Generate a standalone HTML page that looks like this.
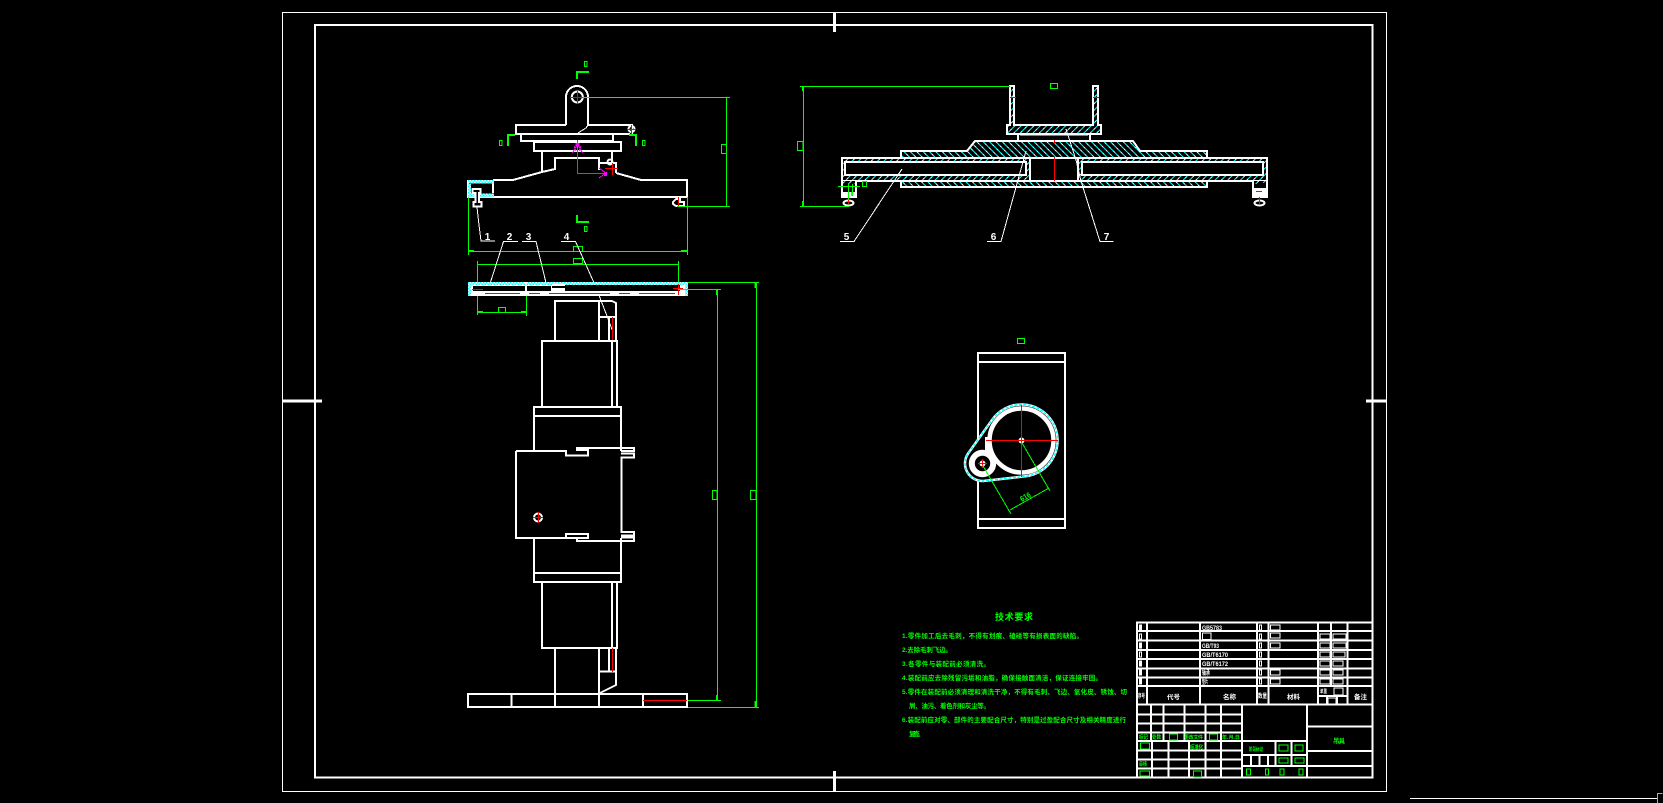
<!DOCTYPE html>
<html><head><meta charset="utf-8"><style>
html,body{margin:0;padding:0;background:#000;width:1663px;height:803px;overflow:hidden}
svg{display:block;position:absolute;left:0;top:0}
.w{fill:none;stroke:#fff;stroke-width:2}
.t{fill:none;stroke:#fff;stroke-width:1}
.g{fill:none;stroke:#0f0;stroke-width:1}
.g2{fill:none;stroke:#0f0;stroke-width:2}
.r{fill:none;stroke:#f00;stroke-width:1}
.m{fill:none;stroke:#f0f;stroke-width:1}
text{font-family:"Liberation Sans","Noto Sans CJK SC",sans-serif}
.lb{fill:#fff;font-size:10px;font-weight:700;text-anchor:middle}
.gt{fill:#0f0;font-size:6.5px;font-weight:700}
.wt{fill:#fff;font-size:6.5px;font-weight:700}
</style></head><body>
<svg width="1663" height="803" viewBox="0 0 1663 803" shape-rendering="crispEdges">
<defs>
<pattern id="h1" width="4.500" height="6" patternUnits="userSpaceOnUse" patternTransform="rotate(45)"><rect width="4.500" height="6" fill="#000"/><line x1="1" y1="0" x2="1" y2="6" stroke="#0ff" stroke-width="1.200"/><line x1="1" y1="0" x2="1" y2="2" stroke="#fff" stroke-width="1.200"/></pattern>
<pattern id="h2" width="4.500" height="6" patternUnits="userSpaceOnUse" patternTransform="rotate(-45)"><rect width="4.500" height="6" fill="#000"/><line x1="1" y1="0" x2="1" y2="6" stroke="#0ff" stroke-width="1.200"/><line x1="1" y1="0" x2="1" y2="2" stroke="#fff" stroke-width="1.200"/></pattern>
<pattern id="dots" width="3" height="3" patternUnits="userSpaceOnUse"><rect width="3" height="3" fill="#fff"/><rect width="1.500" height="1.500" fill="#0ff"/><rect x="1.500" y="1.500" width="1.500" height="1.500" fill="#0ff"/></pattern>
</defs>

<!-- frames -->
<rect x="282.500" y="12.500" width="1104" height="779" fill="none" stroke="#fff" stroke-width="1"/>
<rect x="315" y="25" width="1057.500" height="752.500" class="w"/>
<path d="M834.700 12V32M834.700 771V791" stroke="#fff" stroke-width="3" fill="none"/>
<path d="M282 401H322M1366 401H1386" stroke="#fff" stroke-width="3" fill="none"/>
<path d="M1410 798.500H1657" stroke="#fff" stroke-width="1" fill="none"/>
<path d="M1662.500 793.500H1657.500V803" stroke="#1f8" stroke-width="1" fill="none"/>

<!-- TOP-LEFT front view -->
<path class="w" d="M566 125V97A11 11 0 0 1 588 97V125"/>
<path class="t" d="M588 125L586 128 578 133"/>
<circle cx="577.300" cy="97" r="5.500" class="w" shape-rendering="auto"/>
<path class="r" d="M570 97.500H585M577.500 91V104"/>
<path class="w" d="M566 125H516V134H630M588 125H632V134"/>
<circle cx="631.500" cy="129" r="3" class="w" shape-rendering="auto"/>
<path class="r" d="M627 129.500H636M631.500 125V134" stroke-width="2"/>
<path class="w" d="M521 134V141H613V134"/>
<path class="w" d="M534 142H621V151H534Z"/>
<path class="w" d="M542 151V172M612 151V163"/>
<path class="w" d="M493 180H513L542 172 555 169V158H599V170M599 163H616V173M616 173L641 180H687V197H468V181H493V193M468 181V197"/>
<circle cx="610" cy="162" r="2.500" class="w" shape-rendering="auto"/>
<path d="M468 180H494V183.500H468ZM468 183V197H471V183ZM471 193.500H494V197H471Z" fill="url(#dots)"/>
<path d="M472.500 189H480.500V193H479V202H481.500V206.500H473.500V202H475.500V193H472.500Z" fill="#000" stroke="#fff" stroke-width="2"/>
<path class="t" d="M477 207L479 225 481 241H495"/>
<path d="M673 202L676 199H680V202H684V206H676L673 204Z" fill="#000" stroke="#fff" stroke-width="2"/>
<path class="r" d="M678.500 197V207M605 168.500H618M612.500 163V175"/>
<path class="m" d="M577.500 140V173.500H606M577.500 144L572.500 153M577.500 144L582.500 153M606 173L599 168M606 173L599 178M574 146L576 151M581 146L579 151"/>
<rect x="575.500" y="143" width="4" height="3" fill="#f0f"/><rect x="604" y="172" width="3" height="4" fill="#f0f"/>

<!-- green dims front view -->
<path class="g" d="M583 97.500H730M726.500 97.500V206.500M677 206.500H730"/>
<rect x="721.500" y="144.500" width="5" height="9" class="g"/>
<path class="g2" d="M577 79V72H589M577 215V222H589M508 146V135H515M636 146V135H629"/>
<rect x="584.500" y="61.500" width="2.500" height="5" class="g"/>
<rect x="584.500" y="226.500" width="2.500" height="5" class="g"/>
<rect x="499.500" y="140.500" width="2.500" height="5" class="g"/>
<rect x="642.500" y="140.500" width="2.500" height="5" class="g"/>
<path class="g" d="M468.500 197V255M687.500 197V255M468 251.500H688"/>
<path d="M468 251H474M681 251H688M477 312H483M521 312H527" stroke="#0f0" stroke-width="2"/>
<rect x="573.500" y="246.500" width="9" height="5" class="g"/>
<rect x="573.500" y="258.500" width="9" height="5" class="g"/>
<path class="g" d="M477.500 261V315M678.500 261V295M477 264.500H679M477 312.500H527M526.500 290V316"/>
<rect x="498.500" y="307.500" width="7" height="5" class="g"/>

<!-- leaders 1-4 -->
<path class="t" d="M518 241.500H503.500L488 290M522 241.500H536L547 287M561 241.500H575.500L595 285 607 316 613 332"/>
<text x="487.500" y="240" class="lb">1</text><text x="509.500" y="240" class="lb">2</text><text x="528.500" y="240" class="lb">3</text><text x="566.500" y="240" class="lb">4</text>

<!-- plate -->
<rect x="468" y="282" width="220" height="14" fill="#fff"/>
<rect x="473" y="286" width="52" height="5" fill="#000"/><rect x="527" y="286" width="24" height="5" fill="#000"/><rect x="552" y="284" width="128" height="7" fill="#000"/>
<rect x="468" y="282" width="220" height="3" fill="url(#dots)"/>
<rect x="468" y="282" width="3" height="14" fill="url(#dots)"/><rect x="685" y="282" width="3" height="14" fill="url(#dots)"/>
<rect x="525" y="282" width="2" height="9" fill="#fff"/><rect x="552" y="284" width="13" height="2" fill="#fff"/><rect x="552" y="288" width="13" height="3" fill="#fff"/>
<path d="M472 289.500H483M485 293.500H520M529 293.500H540M549 293.500H610M619 293.500H630M639 293.500H675M673 288.500H683" stroke="#f00" stroke-width="1" fill="none"/>
<path class="r" d="M678.500 284V295"/>
<path class="g" d="M678 289.500H721M717.500 289V700.500M688 282.500H759M756.500 282V707.500"/>
<path d="M717 289V295M755.500 282V288M717 695V700M755.500 701V707" stroke="#0f0" stroke-width="2"/>
<rect x="712.500" y="490.500" width="4.500" height="9" class="g"/><rect x="750.500" y="490.500" width="5.500" height="9" class="g"/>
<path class="g" d="M686 700.500H721M687 707.500H759"/>

<!-- side view stack -->
<path class="w" d="M555 341V301H612L616 303V341M599 301V341M599 317H616M609 317V341"/>
<path class="r" d="M612.500 317V343" stroke-width="1.500"/>
<path class="w" d="M542 406V341H617V406M612 341V406"/>
<path class="w" d="M534 451V407H621V451M534 416H621"/>
<path class="w" d="M516 451V538H566M516 451H566V455.500H588V450H577V448H634V451H621M621 453.500H634V457.500H621.500V532H634V535.700H621M621 537.700H634V541H577V538H588V534H566V538H588"/>
<circle cx="538" cy="517.500" r="4" class="w" shape-rendering="auto"/>
<path class="r" d="M533 517.500H543M538.500 512V523"/>
<path class="w" d="M534 538V582H621V538M534 573H621"/>
<path class="w" d="M542 583V648H617V583M612 583V648"/>
<path class="w" d="M555 648V707M599 648V707M599 671.500H616M616 648V685L600 693M609 648V671"/>
<path class="r" d="M612.500 648V672" stroke-width="1.500"/>
<path class="w" d="M468 694H687V707H468ZM511.500 694V707M643 694V707"/>
<path class="r" d="M643 700.500H687"/>

<!-- TOP-RIGHT section -->
<path d="M1010 86V125H1007V134H1101V125H1098V86H1093V125H1014V86Z" fill="url(#h1)" stroke="#fff" stroke-width="2"/>
<path class="w" d="M1018 134V141M1090 134V141M1020 134.500H1088"/>
<path d="M901 151H967L975 141H1133L1140 151H1207V158H901Z" fill="url(#h2)" stroke="#fff" stroke-width="2"/>
<path d="M842 158H1267V181H842Z" fill="url(#h1)" stroke="#fff" stroke-width="2"/>
<path d="M1030 158H1078V181H1030Z" fill="#000" stroke="#fff" stroke-width="2"/>
<rect x="845" y="162" width="181" height="13" fill="#000" stroke="#fff" stroke-width="2"/>
<rect x="1082" y="162" width="181" height="13" fill="#000" stroke="#fff" stroke-width="2"/>
<path d="M901 181H1207V187H901Z" fill="url(#h2)" stroke="#fff" stroke-width="2"/>
<path d="M842 181H856V197H842Z" fill="#000" stroke="#fff" stroke-width="2"/>
<path d="M1253 181H1267V197H1253Z" fill="#000" stroke="#fff" stroke-width="2"/>
<rect x="843" y="181" width="12" height="3" fill="url(#h1)"/><rect x="1254" y="181" width="12" height="3" fill="url(#h1)"/>
<rect x="843" y="192" width="12" height="4" fill="#fff"/><rect x="1254" y="188" width="12" height="8" fill="#fff"/><rect x="1257" y="183" width="7" height="5" fill="#000"/>
<ellipse cx="848.500" cy="203" rx="5" ry="2.500" class="w" shape-rendering="auto"/>
<ellipse cx="1259.500" cy="203" rx="5" ry="2.500" class="w" shape-rendering="auto"/>
<path d="M1054.500 140V144M1054.500 157V181" stroke="#f00" fill="none" stroke-width="1"/>
<path class="r" d="M1010 97.500H1016M1093 97.500H1099M848.500 197V204M852 190V196M1259.500 197V204M1256 191.500H1262"/>
<path class="g" d="M800 86.500H1010M803.500 86V206.500M800 206.500H849"/>
<path d="M803 86V91M803 201V206" stroke="#0f0" stroke-width="2"/>
<rect x="797.500" y="141.500" width="5.500" height="9" class="g"/>
<rect x="1050.500" y="83.500" width="7" height="5" class="g"/>
<path class="g" d="M838 186.500H860M848.500 184V200M852.500 184V196"/>
<rect x="862.500" y="181.500" width="4" height="5" class="g"/>
<path class="t" d="M840 241.500H854L902 169M987 241.500H1001L1026 151M1113.700 241.500H1100L1081 181 1076 160 1066 129"/>
<text x="846.500" y="240" class="lb">5</text><text x="993.500" y="240" class="lb">6</text><text x="1106.500" y="240" class="lb">7</text>

<!-- rect view with circles -->
<rect x="978" y="353" width="87" height="175" class="w"/>
<path class="w" d="M978 362H1065M978 519H1065"/>
<rect x="1017.500" y="338.500" width="7" height="5" class="g"/>
<g shape-rendering="auto">
<path d="M992.200 419.700A36 36 0 1 1 1025.500 476.300L984.400 480.900A17.500 17.500 0 0 1 968.200 453.400Z" fill="#000" stroke="#fff" stroke-width="2.500"/>
<path d="M992.200 419.700A36 36 0 1 1 1025.500 476.300L984.400 480.900A17.500 17.500 0 0 1 968.200 453.400Z" fill="none" stroke="#0ff" stroke-width="1.500" stroke-dasharray="3 1.500"/>
<circle cx="1021.500" cy="440.500" r="32" fill="none" stroke="#fff" stroke-width="4.500"/>
<circle cx="982.500" cy="463.500" r="10.700" fill="none" stroke="#fff" stroke-width="6"/>
<path d="M985 437L990 437 990 452 985 450Z" fill="#fff"/>
<circle cx="982.500" cy="463.500" r="3" fill="#fff"/>
<circle cx="1021.500" cy="440.500" r="3" fill="#fff"/>
</g>
<path class="r" d="M986 440.500H1058M1021.500 405V477M978 463.500H987M982.500 459V468"/>
<path d="M1021.500 442L1050 491M982.500 465L1011 514M1010 510L1049 488" stroke="#0f0" fill="none" stroke-width="1"/>
<text x="0" y="0" transform="translate(1022 502) rotate(-30)" class="gt" textLength="11" lengthAdjust="spacingAndGlyphs" style="font-size:8px">616</text>

<!-- notes -->
<g class="gt" shape-rendering="auto">
<text x="995" y="620" textLength="38" lengthAdjust="spacing" style="font-size:9px">技术要求</text>
<text x="902" y="638" textLength="181" lengthAdjust="spacing">1.零件加工后去毛刺，不得有划痕、磕碰等有损表面的缺陷。</text>
<text x="902" y="652" textLength="50" lengthAdjust="spacing">2.去除毛刺飞边。</text>
<text x="902" y="666" textLength="88" lengthAdjust="spacing">3.各零件与装配前必须清洗。</text>
<text x="902" y="680" textLength="200" lengthAdjust="spacing">4.装配前应去除残留污垢和油脂，确保接触面清洁，保证连接牢固。</text>
<text x="902" y="694" textLength="225" lengthAdjust="spacing">5.零件在装配前必须清理和清洗干净，不得有毛刺、飞边、氧化皮、锈蚀、切</text>
<text x="909" y="708" textLength="81" lengthAdjust="spacing">屑、油污、着色剂和灰尘等。</text>
<text x="902" y="722" textLength="224" lengthAdjust="spacing">6.装配前应对零、部件的主要配合尺寸，特别是过盈配合尺寸及相关精度进行</text>
<text x="909" y="736" textLength="15" lengthAdjust="spacing">复查。</text>
</g>

<!-- title block -->
<g>
<rect x="1137" y="622.500" width="235.500" height="155" class="w"/>
<path class="w" d="M1137 631H1372M1137 640.500H1372M1137 650H1372M1137 659H1372M1137 668.500H1372M1137 677.500H1372M1137 686H1372M1137 704.500H1372"/>
<path class="w" d="M1147 622V704M1200 622V704M1257 622V704M1268.500 622V704M1318 622V704M1331 622V686M1347.500 622V704"/>
<path class="w" d="M1318 696H1347M1327 696V704M1337 696V704"/>
<path class="w" d="M1242 704V777M1307 704V777"/>
<path class="w" d="M1137 714.500H1242M1137 723.500H1242M1137 732.500H1242M1137 741H1307M1137 750.500H1242M1137 759.500H1242M1137 768.500H1242"/>
<path class="w" d="M1151 704V741M1163.500 704V741M1184.500 704V741M1205.500 704V777M1221 704V777"/>
<path class="w" d="M1152 741V777M1168.500 741V777M1189 741V777"/>
<path class="w" d="M1242 755H1307M1242 766H1307M1275.500 741V766M1291.500 741V766M1251 755V766M1259.500 755V766M1268 755V766"/>
<path class="w" d="M1307 726.500H1372M1307 751H1372M1307 766H1372"/>
<g class="t">
<rect x="1139.500" y="625" width="2" height="5" fill="#fff"/><rect x="1139.500" y="634" width="2" height="5"/>
<rect x="1139.500" y="643" width="2" height="5" fill="#fff"/><rect x="1139.500" y="652" width="2" height="5"/>
<rect x="1139.500" y="661" width="2" height="5" fill="#fff"/><rect x="1139.500" y="670" width="2" height="5" fill="#fff"/><rect x="1139.500" y="679" width="2" height="5" fill="#fff"/>
<rect x="1259.500" y="625" width="2" height="5"/><rect x="1259.500" y="634" width="2" height="5"/><rect x="1259.500" y="643" width="2" height="5"/><rect x="1259.500" y="652" width="2" height="5"/><rect x="1259.500" y="661" width="2" height="5"/><rect x="1259.500" y="670" width="2" height="5"/><rect x="1259.500" y="679" width="2" height="5"/>
<rect x="1270.500" y="625" width="9.500" height="5"/><rect x="1270.500" y="633" width="9.500" height="5"/><rect x="1270.500" y="643" width="9.500" height="5"/><rect x="1270.500" y="670" width="9.500" height="5"/><rect x="1270.500" y="679" width="9.500" height="5"/>
<rect x="1320" y="634" width="10" height="5"/><rect x="1320" y="643" width="10" height="5"/><rect x="1320" y="652" width="10" height="5"/><rect x="1320" y="661" width="10" height="5"/><rect x="1320" y="670" width="10" height="5"/><rect x="1320" y="679" width="10" height="5"/>
<rect x="1333" y="634" width="13" height="5"/><rect x="1333" y="643" width="13" height="5"/><rect x="1333" y="652" width="12" height="5"/><rect x="1333" y="661" width="10" height="5"/><rect x="1333" y="670" width="10" height="5"/><rect x="1333" y="679" width="10" height="5"/>
<rect x="1202.500" y="633" width="8.500" height="6.500"/>
<rect x="1334" y="688" width="9" height="7"/><rect x="1328" y="698" width="8" height="6"/>
</g>
<g class="wt" shape-rendering="auto">
<text x="1202" y="630" textLength="20" lengthAdjust="spacingAndGlyphs" style="font-size:6px">GB5783</text>
<text x="1202" y="648" textLength="17" lengthAdjust="spacingAndGlyphs" style="font-size:6px">GB/T93</text>
<text x="1202" y="657" textLength="26" lengthAdjust="spacingAndGlyphs" style="font-size:6px">GB/T6170</text>
<text x="1202" y="666" textLength="26" lengthAdjust="spacingAndGlyphs" style="font-size:6px">GB/T6172</text>
<text x="1202" y="675" textLength="8" lengthAdjust="spacingAndGlyphs" style="font-size:6px">轴承</text>
<text x="1202" y="684" textLength="6" lengthAdjust="spacingAndGlyphs" style="font-size:6px">垫片</text>
<text x="1138" y="698" textLength="7" lengthAdjust="spacingAndGlyphs" style="font-size:6px">序号</text>
<text x="1167" y="699" textLength="13" lengthAdjust="spacing" style="font-size:6.500px">代号</text>
<text x="1223" y="699" textLength="13" lengthAdjust="spacing" style="font-size:6.500px">名称</text>
<text x="1258" y="698" textLength="9" lengthAdjust="spacingAndGlyphs" style="font-size:6px">数量</text>
<text x="1287" y="699" textLength="13" lengthAdjust="spacing" style="font-size:6.500px">材料</text>
<text x="1320" y="693" textLength="7" lengthAdjust="spacingAndGlyphs" style="font-size:5px">单重</text>
<text x="1354" y="699" textLength="13" lengthAdjust="spacing" style="font-size:6.500px">备注</text>
</g>
<g class="gt" shape-rendering="auto">
<text x="1139" y="739" textLength="9" lengthAdjust="spacingAndGlyphs" style="font-size:5.500px">标记</text>
<text x="1152" y="739" textLength="9" lengthAdjust="spacingAndGlyphs" style="font-size:5.500px">处数</text>
<text x="1184" y="739" textLength="19" lengthAdjust="spacing" style="font-size:5px">更改文件</text>
<text x="1222" y="739" textLength="18" lengthAdjust="spacingAndGlyphs" style="font-size:5px">年.月.日</text>
<text x="1190" y="749" textLength="13" lengthAdjust="spacingAndGlyphs" style="font-size:5.500px">标准化</text>
<text x="1139" y="766" textLength="8" lengthAdjust="spacingAndGlyphs" style="font-size:5.500px">审核</text>
<text x="1249" y="751" textLength="14" lengthAdjust="spacingAndGlyphs" style="font-size:5px">阶段标记</text>
<text x="1333" y="743" textLength="12" lengthAdjust="spacing" style="font-size:6.500px">吊具</text>
</g>
<g class="g">
<rect x="1169.500" y="734" width="8" height="6"/><rect x="1209.500" y="734" width="8" height="6"/>
<rect x="1140.500" y="743" width="9" height="6"/><rect x="1140" y="771" width="9.500" height="5"/>
<rect x="1193.500" y="771" width="8" height="6"/>
<rect x="1279" y="745" width="9" height="6"/><rect x="1295" y="745" width="8" height="6"/>
<rect x="1279" y="758" width="9" height="5"/><rect x="1295" y="758" width="9" height="5"/>
<rect x="1246.500" y="769" width="4" height="6"/><rect x="1265.500" y="769" width="3" height="6"/><rect x="1280" y="769" width="4" height="6"/><rect x="1299" y="769" width="4" height="6"/>
</g>
</g>
</svg>
</body></html>
